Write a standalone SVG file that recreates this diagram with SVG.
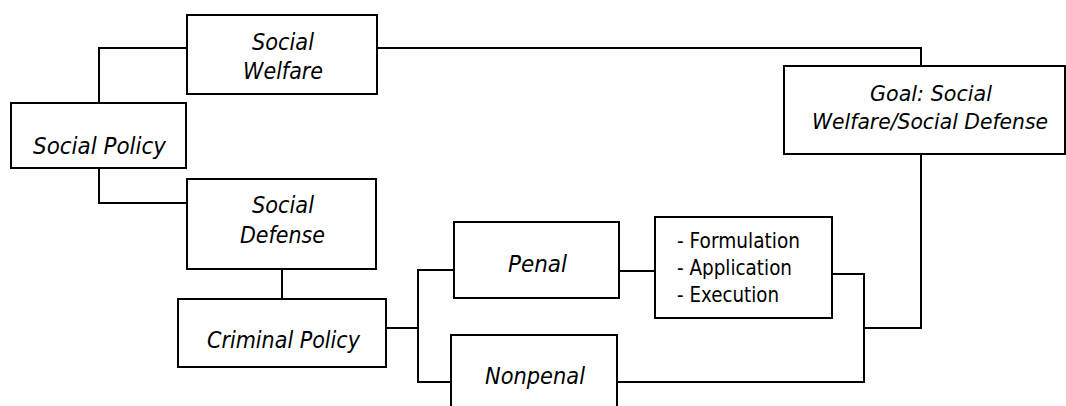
<svg xmlns="http://www.w3.org/2000/svg" width="1066" height="406" viewBox="0 0 1066 406">
<style>
.box{fill:#fff;stroke:#000;stroke-width:2}
.con{fill:none;stroke:#000;stroke-width:2}
.t{font-family:"DejaVu Sans","Liberation Sans",sans-serif;font-size:23px;font-style:italic;fill:#000}
.g{font-family:"DejaVu Sans","Liberation Sans",sans-serif;font-size:21px;font-style:italic;fill:#000}
.u{font-family:"DejaVu Sans","Liberation Sans",sans-serif;font-size:21px;fill:#000}
</style>
<rect width="1066" height="406" fill="#fff"/>
<g id="connectors">
<path class="con" d="M99,103 V48 H187"/>
<path class="con" d="M99,168 V203 H187"/>
<path class="con" d="M377,48 H921 V66"/>
<path class="con" d="M282,269 V299"/>
<path class="con" d="M386,328 H418"/>
<path class="con" d="M454,270 H418 V382 H451"/>
<path class="con" d="M619,271 H655"/>
<path class="con" d="M832,274 H864 V382 H617"/>
<path class="con" d="M864,328 H921 V154"/>
</g>
<g id="social-welfare">
<rect class="box" x="187" y="15" width="190" height="79"/>
<text class="t" x="252" y="50" textLength="62" lengthAdjust="spacingAndGlyphs">Social</text>
<text class="t" x="243" y="79" textLength="80" lengthAdjust="spacingAndGlyphs">Welfare</text>
</g>
<g id="social-policy">
<rect class="box" x="11" y="103" width="175" height="65"/>
<text class="t" x="33" y="154" textLength="133" lengthAdjust="spacingAndGlyphs">Social Policy</text>
</g>
<g id="social-defense">
<rect class="box" x="187" y="179" width="189" height="90"/>
<text class="t" x="252" y="213" textLength="62" lengthAdjust="spacingAndGlyphs">Social</text>
<text class="t" x="240" y="243" textLength="85" lengthAdjust="spacingAndGlyphs">Defense</text>
</g>
<g id="criminal-policy">
<rect class="box" x="178" y="299" width="208" height="68"/>
<text class="t" x="207" y="348" textLength="153" lengthAdjust="spacingAndGlyphs">Criminal Policy</text>
</g>
<g id="penal">
<rect class="box" x="454" y="222" width="165" height="76"/>
<text class="t" x="508" y="272" textLength="59" lengthAdjust="spacingAndGlyphs">Penal</text>
</g>
<g id="nonpenal">
<rect class="box" x="451" y="335" width="166" height="90"/>
<text class="t" x="485" y="384" textLength="100" lengthAdjust="spacingAndGlyphs">Nonpenal</text>
</g>
<g id="stages">
<rect class="box" x="655" y="217" width="177" height="101"/>
<text class="u" x="677" y="248" textLength="123" lengthAdjust="spacingAndGlyphs">- Formulation</text>
<text class="u" x="677" y="275" textLength="115" lengthAdjust="spacingAndGlyphs">- Application</text>
<text class="u" x="677" y="302" textLength="102" lengthAdjust="spacingAndGlyphs">- Execution</text>
</g>
<g id="goal">
<rect class="box" x="784" y="66" width="281" height="88"/>
<text class="g" x="870" y="101" textLength="122" lengthAdjust="spacingAndGlyphs">Goal: Social</text>
<text class="g" x="812" y="129" textLength="236" lengthAdjust="spacingAndGlyphs">Welfare/Social Defense</text>
</g>
</svg>
